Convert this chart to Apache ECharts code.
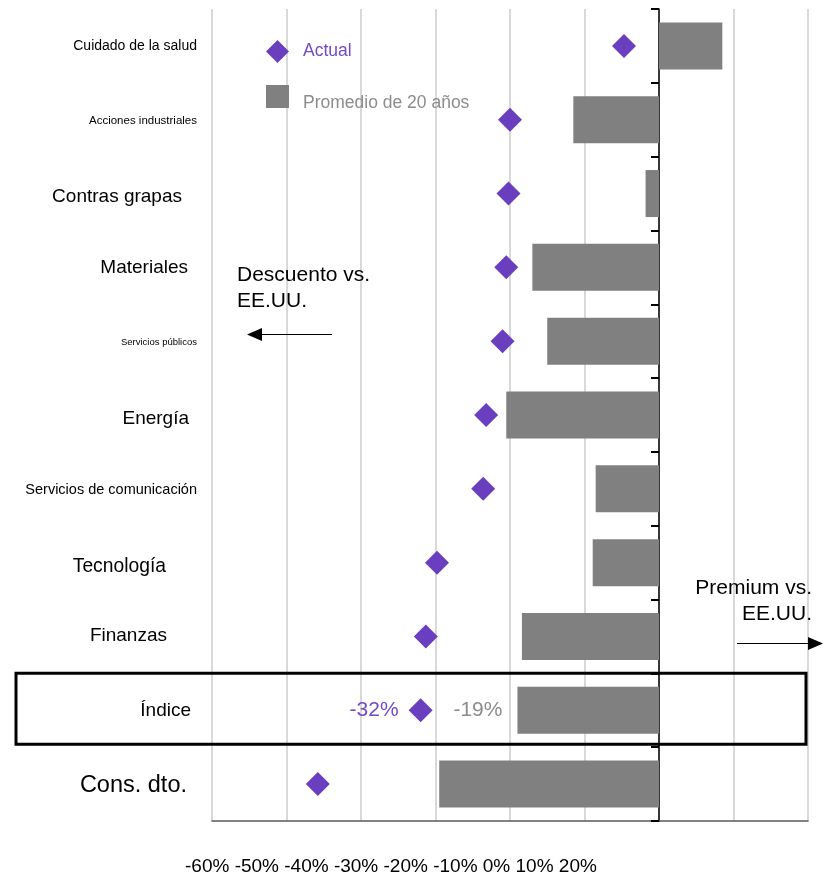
<!DOCTYPE html>
<html>
<head>
<meta charset="utf-8">
<script src="https://cdn.jsdelivr.net/npm/echarts@6/dist/echarts.min.js"></script>
<style>
  html, body { margin: 0; padding: 0; background: #fff; }
  #chart { width: 833px; height: 878px; }
</style>
</head>
<body>
<div id="chart"></div>
<script>
// Sector valuations relative to the U.S. market (% premium / discount)
const categories = [
  'Cuidado de la salud', 'Acciones industriales', 'Contras grapas', 'Materiales',
  'Servicios públicos', 'Energía', 'Servicios de comunicación', 'Tecnología',
  'Finanzas', 'Índice', 'Cons. dto.'
];
const actualValues = [-4.7, -20, -20.2, -20.5, -21, -23.2, -23.6, -29.8, -31.3, -32, -45.8];
const avg20Values  = [8.5, -11.5, -1.8, -17, -15, -20.5, -8.5, -8.9, -18.4, -19, -29.5];
const xTickLabels = ['-60%', '-50%', '-40%', '-30%', '-20%', '-10%', '0%', '10%', '20%'];
const seriesNames = ['Actual', 'Promedio de 20 años'];
const highlighted = 'Índice';
const xMin = -60, xMax = 20, xStep = 10;

// Per-row label look (font size, extra right gap, vertical nudge)
const rowLabelLook = [
  { size: 14,   gap: 0,  dy: 0 },
  { size: 11.5, gap: 0,  dy: 1 },
  { size: 19,   gap: 15, dy: 3 },
  { size: 19,   gap: 9,  dy: 0 },
  { size: 9.5,  gap: 0,  dy: 1 },
  { size: 19,   gap: 8,  dy: 3.5 },
  { size: 14.5, gap: 0,  dy: 1 },
  { size: 19.3, gap: 31, dy: 4.5 },
  { size: 19,   gap: 30, dy: -1 },
  { size: 19,   gap: 6,  dy: 0.5 },
  { size: 23.5, gap: 10, dy: 1 }
];

const FONT = '"Liberation Sans", Arial, sans-serif';
const PURPLE = '#6a3fbf';
const PURPLE_TEXT = '#7449c6';
const GRAY = '#808080';
const GRAY_TEXT = '#8c8c8c';

const rich = {};
rowLabelLook.forEach((s, i) => {
  rich['l' + i] = {
    fontSize: s.size,
    fontFamily: FONT,
    color: '#000',
    padding: [s.dy > 0 ? 2 * s.dy : 0, s.gap, s.dy < 0 ? -2 * s.dy : 0, 0]
  };
});

const chart = echarts.init(document.getElementById('chart'), null, { renderer: 'canvas' });

const option = {
  animation: false,
  backgroundColor: '#fff',
  textStyle: { fontFamily: FONT },
  grid: { left: 212, right: 25, top: 9, bottom: 57, containLabel: false },
  legend: {
    orient: 'vertical',
    left: 266,
    top: 40,
    padding: 0,
    itemWidth: 23,
    itemHeight: 23,
    itemGap: 22,
    data: [
      { name: seriesNames[0], icon: 'diamond' },
      { name: seriesNames[1], icon: 'rect' }
    ],
    formatter: name => name === seriesNames[0] ? '{a|' + name + '}' : '{p|' + name + '}',
    textStyle: {
      rich: {
        a: { color: PURPLE_TEXT, fontSize: 17.5, fontFamily: FONT, padding: [0, 0, 0, 9] },
        p: { color: GRAY_TEXT, fontSize: 17.5, fontFamily: FONT, padding: [13, 0, 0, 9] }
      }
    }
  },
  xAxis: {
    type: 'value',
    min: xMin,
    max: xMax,
    interval: xStep,
    axisLine: { show: true, onZero: false, lineStyle: { color: '#595959', width: 1.5 } },
    axisTick: { show: false },
    axisLabel: { show: false },
    splitLine: { show: true, lineStyle: { color: '#d9d9d9', width: 2 } }
  },
  yAxis: [
    {
      type: 'category',
      data: categories,
      inverse: true,
      axisLine: { show: true, onZero: true, lineStyle: { color: '#000', width: 1.5 } },
      axisTick: { show: true, length: 8, lineStyle: { color: '#000', width: 2 } },
      axisLabel: { show: false },
      splitLine: { show: false }
    },
    {
      type: 'category',
      data: categories,
      inverse: true,
      position: 'left',
      axisLine: { show: false, onZero: false },
      axisTick: { show: false },
      splitLine: { show: false },
      axisLabel: {
        margin: 15,
        formatter: (v, i) => '{l' + i + '|' + v + '}',
        rich: rich
      }
    }
  ],
  series: [
    {
      name: seriesNames[1],
      type: 'bar',
      yAxisIndex: 0,
      barWidth: 47,
      itemStyle: { color: GRAY },
      z: 2,
      label: {
        show: false,
        position: 'left',
        distance: 15,
        color: GRAY_TEXT,
        fontSize: 21,
        fontFamily: FONT,
        formatter: p => p.value + '%'
      },
      data: avg20Values.map((v, i) =>
        categories[i] === highlighted ? { value: v, label: { show: true } } : v)
    },
    {
      name: seriesNames[0],
      type: 'scatter',
      yAxisIndex: 0,
      symbol: 'diamond',
      symbolSize: 24,
      itemStyle: { color: PURPLE, opacity: 1 },
      z: 3,
      label: {
        show: false,
        position: 'left',
        distance: 10,
        color: PURPLE_TEXT,
        fontSize: 21,
        fontFamily: FONT,
        formatter: p => p.value[0] + '%'
      },
      data: actualValues.map((v, i) =>
        categories[i] === highlighted
          ? { value: [v, categories[i]], label: { show: true } }
          : [v, categories[i]])
    }
  ]
};

chart.setOption(option);

// Annotations: x tick label line, premium/discount notes, arrows and the highlight box
const rowY = chart.convertToPixel({ yAxisIndex: 0 }, highlighted);
const textStyleBase = { fill: '#000', fontSize: 21, fontFamily: FONT };

chart.setOption({
  graphic: [
    {
      type: 'text', left: 185, top: 857,
      style: { text: xTickLabels.join(' '), fill: '#000', fontSize: 19, fontFamily: FONT }
    },
    {
      type: 'text', x: 237, y: 262,
      style: Object.assign({ text: 'Descuento vs.\nEE.UU.', lineHeight: 26, align: 'left' }, textStyleBase)
    },
    {
      type: 'text', x: 812, y: 575,
      style: Object.assign({ text: 'Premium vs.\nEE.UU.', lineHeight: 26, align: 'right' }, textStyleBase)
    },
    {
      type: 'line', shape: { x1: 332, y1: 334.5, x2: 258, y2: 334.5 },
      style: { stroke: '#000', lineWidth: 1.2 }
    },
    {
      type: 'polygon', shape: { points: [[247, 334.5], [262, 328], [262, 341]] },
      style: { fill: '#000' }
    },
    {
      type: 'line', shape: { x1: 737, y1: 643.5, x2: 812, y2: 643.5 },
      style: { stroke: '#000', lineWidth: 1.2 }
    },
    {
      type: 'polygon', shape: { points: [[823, 643.5], [808, 637], [808, 650]] },
      style: { fill: '#000' }
    },
    {
      type: 'rect', z: 100,
      shape: { x: 16, y: rowY - 37, width: 790, height: 71 },
      style: { fill: 'none', stroke: '#000', lineWidth: 3 }
    }
  ]
});
</script>
</body>
</html>
